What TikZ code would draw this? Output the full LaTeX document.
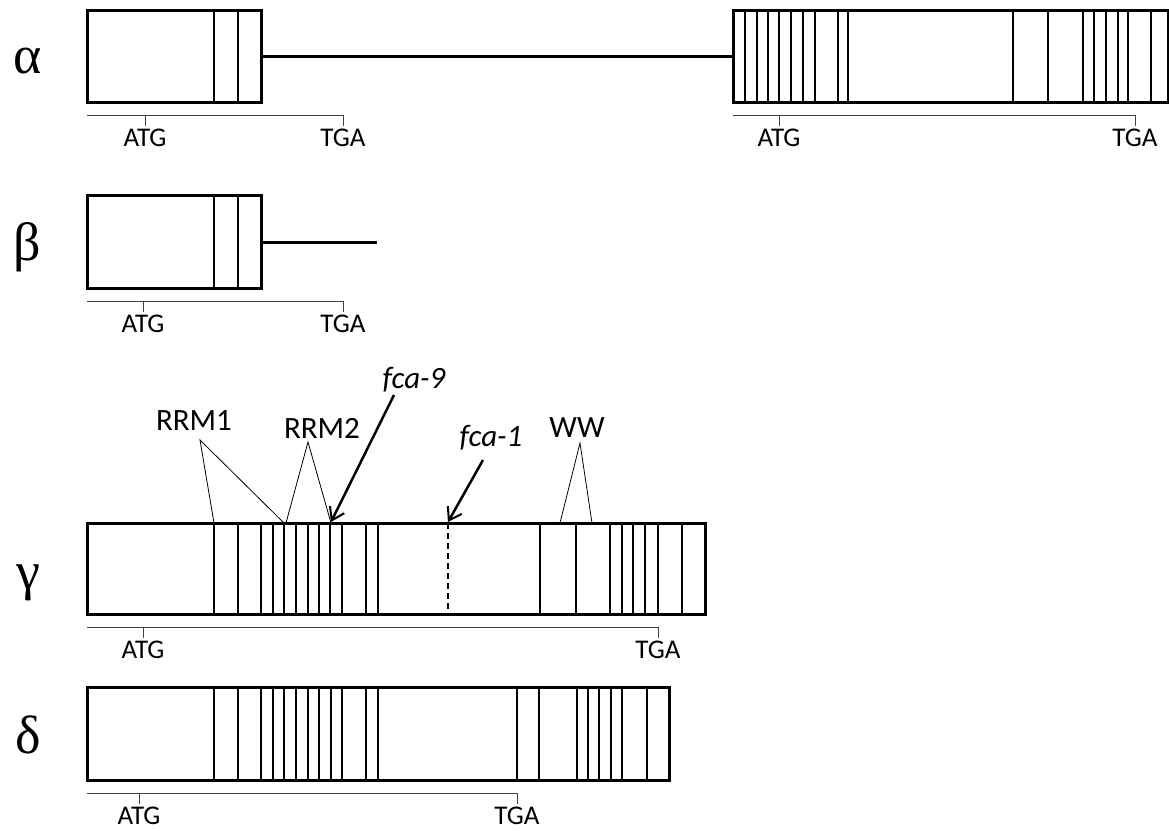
\documentclass[tikz,border=0pt]{standalone}
\usepackage{fontspec}
\setmainfont{Carlito}
\newfontfamily\greekfont{Liberation Serif}
\usepackage{tikz}
\usetikzlibrary{arrows.meta, positioning, calc}

\begin{document}
\begin{tikzpicture}[
	x=1pt, y=-1pt,
	every node/.style={font=\fontsize{27}{30}\selectfont},
	genebox/.style={draw=black, line width=3pt},
	junction/.style={line width=2pt},
	intron/.style={line width=3pt},
	ruler/.style={line width=1pt, draw=black!75},
	codon/.style={below, inner sep=3pt},
	isoform/.style={font=\greekfont\fontsize{54}{58}\selectfont},
	motif/.style={font=\fontsize{31}{34}\selectfont},
	mutant/.style={font=\fontsize{31}{34}\selectfont\itshape},
	pointer/.style={line width=0.8pt},
	arrow/.style={-{Straight Barb[length=12pt, width=16pt, line width=2pt]}, line width=2.5pt}
]
\useasboundingbox (0,0) rectangle (1169,830);

% Isoform labels
\node[isoform] (alpha) at (28,61) {α};
\node[isoform] (beta) at (27,247) {β};
\node[isoform] (gamma) at (28,583) {γ};
\node[isoform] (delta) at (28,735) {δ};

% alpha: first exon block, intron, second block
\foreach \x in {214, 238}
	\draw[junction] (\x,10) -- (\x,102);
\draw[genebox] (87,10) rectangle (261,102);
\foreach \x in {745, 757, 768, 779, 791, 803, 815, 838, 848, 1013, 1048, 1083, 1094, 1106, 1118, 1128, 1151}
	\draw[junction] (\x,10) -- (\x,102);
\draw[genebox] (733,10) rectangle (1168,102);
\draw[intron] (261,56) -- (733,56);

% alpha: coding regions
\draw[ruler] (87,115) -- (343,115) (145,115) -- (145,126) (343,115) -- (343,126);
\node[codon] (atgA) at (145,126) {ATG};
\node[codon] (tgaA) at (343,126) {TGA};
\draw[ruler] (733,115) -- (1135,115) (779,115) -- (779,126) (1135,115) -- (1135,126);
\node[codon] (atgA2) at (779,126) {ATG};
\node[codon] (tgaA2) at (1135,126) {TGA};

% beta
\foreach \x in {214, 238}
	\draw[junction] (\x,195) -- (\x,288);
\draw[genebox] (87,195) rectangle (261,288);
\draw[intron] (261,242) -- (377,242);
\draw[ruler] (87,301) -- (343,301) (143,301) -- (143,312) (343,301) -- (343,312);
\node[codon] (atgB) at (143,312) {ATG};
\node[codon] (tgaB) at (343,312) {TGA};

% gamma
\foreach \x in {214, 238, 261, 273, 284, 296, 308, 319, 330, 342, 366, 378, 540, 576, 610, 622, 633, 645, 658, 682}
	\draw[junction] (\x,523) -- (\x,614);
\draw[junction, line width=1.2pt, dash pattern=on 6pt off 4pt] (448,523) -- (448,614);
\draw[genebox] (87,523) rectangle (705,614);
\draw[ruler] (87,627) -- (658,627) (143,627) -- (143,638) (658,627) -- (658,638);
\node[codon] (atgG) at (143,638) {ATG};
\node[codon] (tgaG) at (658,638) {TGA};

% domains and mutations on gamma
\node[motif] (rrmA) at (194,421) {RRM1};
\node[motif] (rrmB) at (322,428) {RRM2};
\node[motif] (ww) at (577,428) {WW};
\node[mutant] (fcaN) at (414,380) {fca-9};
\node[mutant] (fcaO) at (491,438) {fca-1};
\coordinate (rrmAtip) at (200,440);
\coordinate (rrmBtip) at (308,442);
\coordinate (wwtip) at (580,443);
\draw[pointer] (214,523) -- (rrmAtip) -- (284,523);
\draw[pointer] (286,523) -- (rrmBtip) -- (331,523);
\draw[pointer] (560,523) -- (wwtip) -- (592,523);
\draw[arrow] (394,395) -- (331,522);
\draw[arrow] (483,460) -- (448,522);

% delta
\foreach \x in {214, 238, 261, 273, 284, 296, 308, 319, 331, 342, 366, 378, 517, 539, 577, 588, 599, 611, 622, 647}
	\draw[junction] (\x,687) -- (\x,780);
\draw[genebox] (87,687) rectangle (669,780);
\draw[ruler] (87,793) -- (517,793) (139,793) -- (139,804) (517,793) -- (517,804);
\node[codon] (atgD) at (139,804) {ATG};
\node[codon] (tgaD) at (517,804) {TGA};

\end{tikzpicture}
\end{document}
